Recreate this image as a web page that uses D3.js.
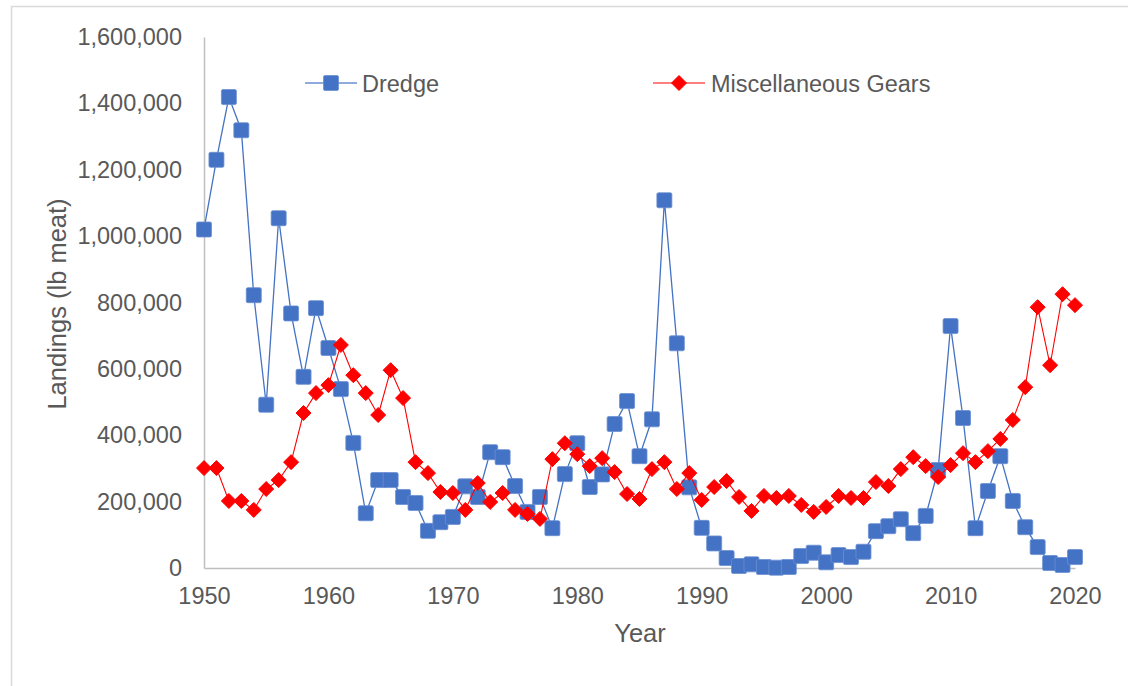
<!DOCTYPE html>
<html>
<head>
<meta charset="utf-8">
<script src="https://cdn.jsdelivr.net/npm/d3@7"></script>
<style>
  body { margin: 0; background: #fff; }
  svg { display: block; font-family: "Liberation Sans", Arial, sans-serif; }
</style>
</head>
<body>
<div id="chart"></div>
<script>
// Datos
const years = d3.range(1950, 2021);

const dredge = [
  1020000, 1230000, 1419000, 1319000, 822000, 492000, 1054000, 767000, 576000, 783000,
  663000, 539000, 377000, 165000, 265000, 265000, 214000, 196000, 112000, 138000,
  154000, 246000, 214000, 349000, 334000, 247000, 169000, 214000, 120000, 283000,
  376000, 244000, 282000, 434000, 503000, 337000, 448000, 1108000, 677000, 243000,
  121000, 74000, 30000, 6000, 11000, 3000, 1000, 3000, 36000, 46000,
  17000, 39000, 33000, 49000, 111000, 126000, 147000, 105000, 157000, 295000,
  729000, 452000, 120000, 232000, 337000, 202000, 123000, 63000, 15000, 9000,
  33000
];

const miscGears = [
  301000, 301000, 202000, 202000, 175000, 238000, 265000, 319000, 467000, 527000,
  551000, 672000, 581000, 527000, 461000, 596000, 512000, 319000, 286000, 229000,
  226000, 175000, 256000, 199000, 226000, 175000, 163000, 148000, 328000, 376000,
  343000, 307000, 331000, 289000, 223000, 208000, 298000, 319000, 238000, 286000,
  205000, 244000, 262000, 214000, 172000, 217000, 211000, 217000, 190000, 169000,
  184000, 217000, 211000, 211000, 259000, 247000, 298000, 334000, 307000, 274000,
  310000, 346000, 319000, 352000, 389000, 446000, 545000, 786000, 611000, 825000,
  792000
];

const xTicks = [1950, 1960, 1970, 1980, 1990, 2000, 2010, 2020];
const yTicks = [0, 200000, 400000, 600000, 800000, 1000000, 1200000, 1400000, 1600000];

const seriesNames = ["Dredge", "Miscellaneous Gears"];

// Dibujo
const width = 1128, height = 686;
const textColor = "#595959";
const axisColor = "#bfbfbf";

const svg = d3.select("#chart").append("svg")
  .attr("width", width)
  .attr("height", height);

// marco exterior
svg.append("rect")
  .attr("x", 11.5).attr("y", 6.5)
  .attr("width", 1300).attr("height", 900)
  .attr("fill", "none")
  .attr("stroke", "#d9d9d9")
  .attr("stroke-width", 1.5);

const x = d3.scaleLinear().domain([1950, 2020]).range([204, 1075]);
const y = d3.scaleLinear().domain([0, 1600000]).range([568, 37]);

const fmt = d3.format(",");

// eje Y
const yAxis = svg.append("g")
  .attr("transform", "translate(204,0)")
  .call(d3.axisLeft(y).tickValues(yTicks).tickFormat(fmt).tickSize(0).tickPadding(22));
yAxis.select(".domain").attr("stroke", axisColor).attr("stroke-width", 1.5);
yAxis.selectAll("text")
  .attr("fill", textColor)
  .style("font-size", "23.5px");

// eje X
const xAxis = svg.append("g")
  .attr("transform", "translate(0,568)")
  .call(d3.axisBottom(x).tickValues(xTicks).tickFormat(d3.format("d")).tickSize(0).tickPadding(19));
xAxis.select(".domain").attr("stroke", axisColor).attr("stroke-width", 1.5);
xAxis.selectAll("text")
  .attr("fill", textColor)
  .style("font-size", "23.5px");

// títulos de ejes
svg.append("text")
  .attr("x", 640).attr("y", 642)
  .attr("text-anchor", "middle")
  .attr("fill", textColor)
  .style("font-size", "25.5px")
  .text("Year");

svg.append("text")
  .attr("transform", "translate(66,304) rotate(-90)")
  .attr("text-anchor", "middle")
  .attr("fill", textColor)
  .style("font-size", "25.5px")
  .text("Landings (lb meat)");

// series
const line = d3.line()
  .x(function (d) { return x(d[0]); })
  .y(function (d) { return y(d[1]); });

const dredgeData = years.map(function (yr, i) { return [yr, dredge[i]]; });
const miscData = years.map(function (yr, i) { return [yr, miscGears[i]]; });

const blue = "#4472C4";
const red = "#FF0000";
const sq = 15;
const dm = 7.5;

function diamondPath(cx, cy, r) {
  return "M" + cx + "," + (cy - r) + "L" + (cx + r) + "," + cy +
    "L" + cx + "," + (cy + r) + "L" + (cx - r) + "," + cy + "Z";
}

svg.append("path")
  .datum(dredgeData)
  .attr("fill", "none")
  .attr("stroke", blue)
  .attr("stroke-width", 1.3)
  .attr("d", line);

svg.selectAll(".sq")
  .data(dredgeData)
  .enter().append("rect")
  .attr("class", "sq")
  .attr("x", function (d) { return x(d[0]) - sq / 2; })
  .attr("y", function (d) { return y(d[1]) - sq / 2; })
  .attr("width", sq).attr("height", sq)
  .attr("rx", 1.5)
  .attr("fill", blue)
  .attr("stroke", "#6a8fd3")
  .attr("stroke-width", 0.8);

svg.append("path")
  .datum(miscData)
  .attr("fill", "none")
  .attr("stroke", red)
  .attr("stroke-width", 1.1)
  .attr("d", line);

svg.selectAll(".dm")
  .data(miscData)
  .enter().append("path")
  .attr("class", "dm")
  .attr("d", function (d) { return diamondPath(x(d[0]), y(d[1]), dm); })
  .attr("fill", red)
  .attr("stroke", red)
  .attr("stroke-width", 1)
  .attr("stroke-linejoin", "round");

// leyenda
const legend = svg.append("g");

legend.append("line")
  .attr("x1", 305).attr("x2", 357).attr("y1", 83).attr("y2", 83)
  .attr("stroke", "#8faadc").attr("stroke-width", 1.8);
legend.append("rect")
  .attr("x", 331 - sq / 2).attr("y", 83 - sq / 2)
  .attr("width", sq).attr("height", sq).attr("rx", 1.5)
  .attr("fill", blue).attr("stroke", "#6a8fd3").attr("stroke-width", 0.8);
legend.append("text")
  .attr("x", 362).attr("y", 91.5)
  .attr("fill", textColor)
  .style("font-size", "23.5px")
  .text(seriesNames[0]);

legend.append("line")
  .attr("x1", 653).attr("x2", 705).attr("y1", 83).attr("y2", 83)
  .attr("stroke", "#ff7f7f").attr("stroke-width", 1.8);
legend.append("path")
  .attr("d", diamondPath(679, 83, dm))
  .attr("fill", red).attr("stroke", red).attr("stroke-width", 1)
  .attr("stroke-linejoin", "round");
legend.append("text")
  .attr("x", 711).attr("y", 91.5)
  .attr("fill", textColor)
  .style("font-size", "23.5px")
  .text(seriesNames[1]);
</script>
</body>
</html>
